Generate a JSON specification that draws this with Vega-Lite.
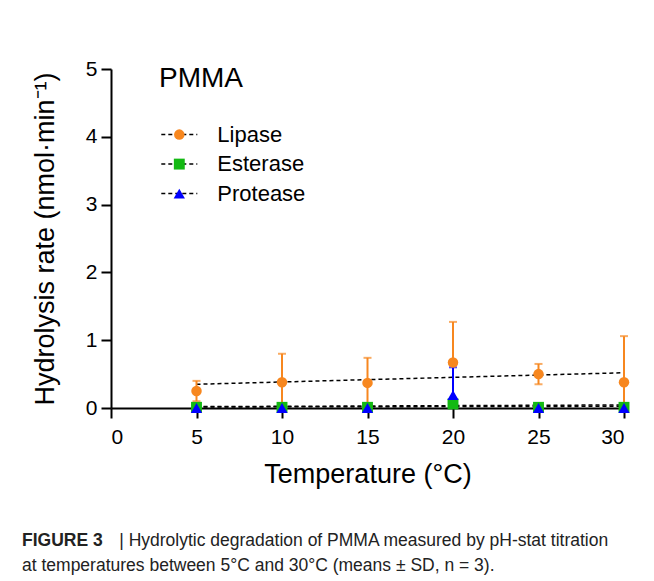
{
  "$schema": "https://vega.github.io/schema/vega-lite/v6.json",
  "width": 513,
  "height": 339,
  "autosize": {"type": "none"},
  "padding": {"left": 111, "top": 69, "right": 30, "bottom": 173},
  "background": "white",
  "config": {
    "font": "Liberation Sans",
    "view": {"stroke": null},
    "axis": {
      "grid": false,
      "domainColor": "black",
      "domainWidth": 2,
      "tickColor": "black",
      "tickWidth": 2,
      "tickSize": 10,
      "labelFont": "Liberation Sans",
      "labelFontSize": 21,
      "labelColor": "black",
      "titleFont": "Liberation Sans",
      "titleFontSize": 27,
      "titleFontWeight": "normal",
      "titleColor": "black"
    }
  },
  "title": {
    "text": "FIGURE 3",
    "subtitle": [
      "\u200b\u00a0\u00a0\u00a0\u00a0\u00a0\u00a0\u00a0\u00a0\u00a0\u00a0\u00a0\u00a0\u00a0\u00a0\u00a0\u00a0\u00a0\u00a0\u00a0\u00a0| Hydrolytic degradation of PMMA measured by pH-stat titration",
      "at temperatures between 5°C and 30°C (means ± SD, n = 3)."
    ],
    "orient": "bottom",
    "anchor": "start",
    "frame": "group",
    "dx": -89,
    "offset": 45,
    "font": "Liberation Sans",
    "fontSize": 17.5,
    "fontWeight": "bold",
    "color": "#222222",
    "subtitleFont": "Liberation Sans",
    "subtitleFontSize": 17.5,
    "subtitleFontWeight": "normal",
    "subtitleColor": "#222222",
    "subtitlePadding": -17.5,
    "subtitleLineHeight": 25
  },
  "datasets": {
    "points": [
      {"series": "Lipase", "T": 5, "rate": 0.25, "lo": 0.10, "hi": 0.40},
      {"series": "Lipase", "T": 10, "rate": 0.38, "lo": 0.0, "hi": 0.80},
      {"series": "Lipase", "T": 15, "rate": 0.37, "lo": 0.0, "hi": 0.74},
      {"series": "Lipase", "T": 20, "rate": 0.67, "lo": 0.07, "hi": 1.27},
      {"series": "Lipase", "T": 25, "rate": 0.50, "lo": 0.35, "hi": 0.65},
      {"series": "Lipase", "T": 30, "rate": 0.38, "lo": 0.0, "hi": 1.06},
      {"series": "Esterase", "T": 5, "rate": 0.01, "lo": 0.01, "hi": 0.01},
      {"series": "Esterase", "T": 10, "rate": 0.01, "lo": 0.01, "hi": 0.01},
      {"series": "Esterase", "T": 15, "rate": 0.01, "lo": 0.01, "hi": 0.01},
      {"series": "Esterase", "T": 20, "rate": 0.06, "lo": 0.06, "hi": 0.06},
      {"series": "Esterase", "T": 25, "rate": 0.01, "lo": 0.01, "hi": 0.01},
      {"series": "Esterase", "T": 30, "rate": 0.01, "lo": 0.01, "hi": 0.01},
      {"series": "Protease", "T": 5, "rate": 0.0, "lo": 0.0, "hi": 0.0},
      {"series": "Protease", "T": 10, "rate": 0.0, "lo": 0.0, "hi": 0.0},
      {"series": "Protease", "T": 15, "rate": 0.0, "lo": 0.0, "hi": 0.0},
      {"series": "Protease", "T": 20, "rate": 0.19, "lo": 0.0, "hi": 0.60},
      {"series": "Protease", "T": 25, "rate": 0.0, "lo": 0.0, "hi": 0.0},
      {"series": "Protease", "T": 30, "rate": 0.0, "lo": 0.0, "hi": 0.0}
    ],
    "fits": [
      {"fit": "Lipase", "T": 5, "rate": 0.35},
      {"fit": "Lipase", "T": 30, "rate": 0.52},
      {"fit": "Esterase", "T": 5, "rate": 0.015},
      {"fit": "Esterase", "T": 30, "rate": 0.025},
      {"fit": "Protease", "T": 5, "rate": 0.02},
      {"fit": "Protease", "T": 30, "rate": 0.045}
    ]
  },
  "layer": [
    {
      "data": {"name": "fits"},
      "mark": {"type": "line", "color": "black", "strokeWidth": 1.5},
      "encoding": {
        "x": {"field": "T", "type": "quantitative", "scale": {"domain": [0, 30], "nice": false},
          "axis": {"values": [0, 5, 10, 15, 20, 25, 30], "format": "d", "title": "Temperature (°C)", "labelPadding": 8, "titlePadding": 14}},
        "y": {"field": "rate", "type": "quantitative", "scale": {"domain": [0, 5], "nice": false},
          "axis": {"values": [0, 1, 2, 3, 4, 5], "format": "d", "title": "Hydrolysis rate (nmol·min⁻¹)", "labelPadding": 4, "titlePadding": 26}},
        "strokeDash": {
          "field": "fit", "type": "nominal",
          "sort": ["Lipase", "Esterase", "Protease"],
          "scale": {"range": [[4, 3], [4, 3], [4, 3]]},
          "legend": {
            "orient": "none", "legendX": 48, "legendY": -4.4, "padding": 0,
            "title": "PMMA", "titleFont": "Liberation Sans", "titleFontSize": 28, "titleFontWeight": "normal",
            "titleColor": "black", "titlePadding": 31, "titleOpacity": 0,
            "labelFont": "Liberation Sans", "labelFontSize": 22, "labelColor": "black", "labelOpacity": 0,
            "labelOffset": 27, "rowPadding": 7.5, "symbolOffset": 9.3,
            "symbolType": "M-3,0H3", "symbolSize": 144, "symbolStrokeColor": "black", "symbolStrokeWidth": 1.5
          }
        }
      }
    },
    {
      "data": {"name": "points"},
      "mark": {"type": "rule", "strokeWidth": 2},
      "encoding": {
        "x": {"field": "T", "type": "quantitative"},
        "y": {"field": "lo", "type": "quantitative"},
        "y2": {"field": "hi"},
        "stroke": {"field": "series", "type": "nominal", "sort": ["Lipase", "Esterase", "Protease"],
          "scale": {"range": ["#F7871F", "#13B913", "#0000FF"]}, "legend": null}
      }
    },
    {
      "data": {"name": "points"},
      "mark": {"type": "tick", "orient": "horizontal", "size": 8, "thickness": 2},
      "encoding": {
        "x": {"field": "T", "type": "quantitative"},
        "y": {"field": "hi", "type": "quantitative"},
        "fill": {"field": "series", "type": "nominal", "sort": ["Lipase", "Esterase", "Protease"],
          "scale": {"range": ["#F7871F", "#13B913", "#0000FF"]}, "legend": null}
      }
    },
    {
      "data": {"name": "points"},
      "mark": {"type": "tick", "orient": "horizontal", "size": 8, "thickness": 2},
      "encoding": {
        "x": {"field": "T", "type": "quantitative"},
        "y": {"field": "lo", "type": "quantitative"},
        "fill": {"field": "series", "type": "nominal", "sort": ["Lipase", "Esterase", "Protease"],
          "scale": {"range": ["#F7871F", "#13B913", "#0000FF"]}, "legend": null}
      }
    },
    {
      "data": {"name": "points"},
      "mark": {"type": "point", "filled": true, "opacity": 1},
      "encoding": {
        "x": {"field": "T", "type": "quantitative"},
        "y": {"field": "rate", "type": "quantitative"},
        "color": {"field": "series", "type": "nominal",
          "scale": {"domain": ["Lipase", "Esterase", "Protease"], "range": ["#F7871F", "#13B913", "#0000FF"]},
          "legend": {
            "orient": "none", "legendX": 48, "legendY": -4.4, "padding": 0,
            "title": "PMMA", "titleFont": "Liberation Sans", "titleFontSize": 28, "titleFontWeight": "normal",
            "titleColor": "black", "titlePadding": 31,
            "labelFont": "Liberation Sans", "labelFontSize": 22, "labelColor": "black",
            "labelOffset": 27, "rowPadding": 7.5, "symbolOffset": 9.3, "symbolOpacity": 1
          }
        },
        "shape": {"field": "series", "type": "nominal",
          "scale": {"domain": ["Lipase", "Esterase", "Protease"], "range": ["circle", "square", "triangle-up"]}},
        "size": {"field": "series", "type": "nominal",
          "scale": {"domain": ["Lipase", "Esterase", "Protease"], "range": [110, 128, 100]}}
      }
    }
  ]
}
